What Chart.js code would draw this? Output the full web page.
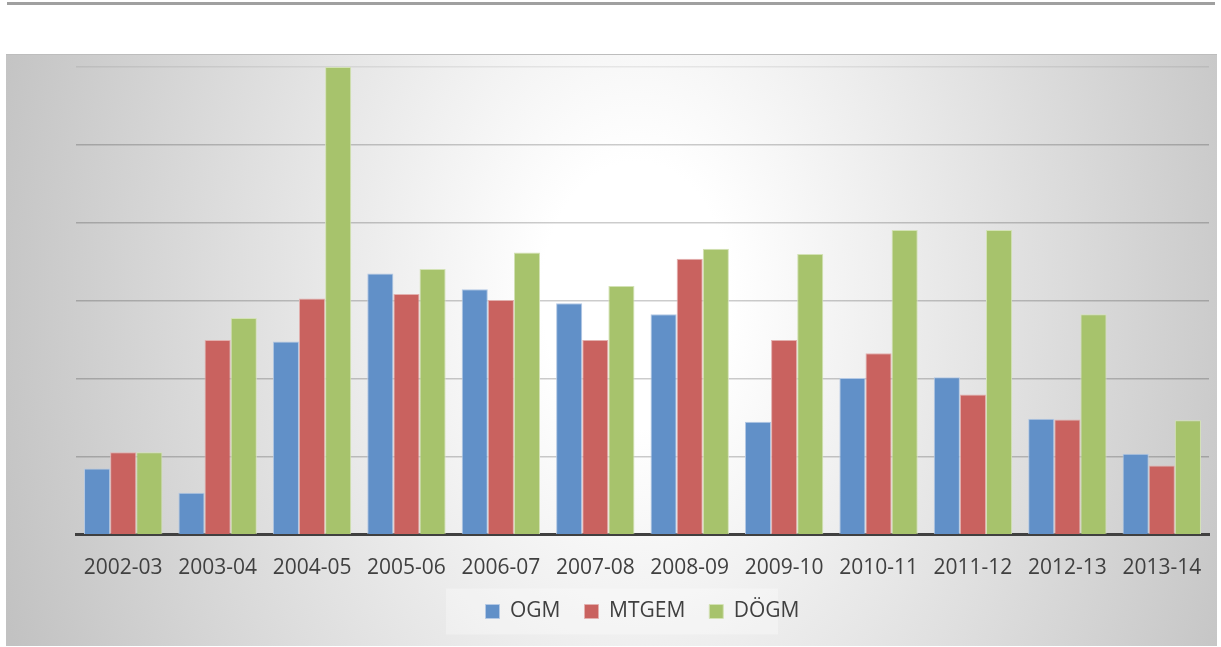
<!DOCTYPE html>
<html>
<head>
<meta charset="utf-8">
<script src="https://cdn.jsdelivr.net/npm/chart.js@4/dist/chart.umd.min.js"></script>
<style>
  html, body { margin: 0; padding: 0; background: #fff; }
  body { width: 1221px; height: 647px; position: relative; overflow: hidden; }
  #topRule { position: absolute; left: 7px; top: 2px; width: 1208px; height: 3px; background: #a0a0a0; }
  #frame {
    position: absolute; left: 6px; top: 54px; width: 1211px; height: 591px;
    border-top: 1px solid #bdbdbd;
    background: radial-gradient(ellipse 670px 950px at 630px 240px, #ffffff 0%, #ffffff 14%, #c2c2c2 100%);
  }
  #frame canvas { position: absolute; left: 0; top: 0; }
</style>
</head>
<body>
<div id="topRule"></div>
<div id="frame"><canvas id="mainChart" width="1211" height="590"></canvas></div>
<script>
const YEARS = ["2002-03", "2003-04", "2004-05", "2005-06", "2006-07", "2007-08",
               "2008-09", "2009-10", "2010-11", "2011-12", "2012-13", "2013-14"];
const OGM   = [0.85, 0.54, 2.48, 3.35, 3.15, 2.97, 2.83, 1.45, 2.01, 2.02, 1.49, 1.04];
const MTGEM = [1.06, 2.50, 3.03, 3.09, 3.01, 2.50, 3.54, 2.50, 2.33, 1.80, 1.48, 0.89];
const DOGM  = [1.06, 2.78, 6.00, 3.41, 3.62, 3.19, 3.67, 3.60, 3.91, 3.91, 2.83, 1.47];
const Y_MAX = 6;

const FONT = "'Open Sans', sans-serif";

// faint white panel behind the legend
const legendPanel = {
  id: "legendPanel",
  beforeDraw(chart) {
    const lg = chart.legend;
    if (!lg || !lg.legendHitBoxes.length) return;
    const hb = lg.legendHitBoxes[0];
    const mid = hb.top + hb.height / 2;
    const c = chart.ctx;
    c.save();
    c.fillStyle = "rgba(255,255,255,0.3)";
    c.fillRect(440, mid - 23, 332, 46);
    c.restore();
  }
};

const ctx = document.getElementById("mainChart").getContext("2d");
const CHART = new Chart(ctx, {
  type: "bar",
  data: {
    labels: YEARS,
    datasets: [
      { label: "OGM",   data: OGM,   backgroundColor: "#6190c8", borderColor: "#b3c8e4", borderWidth: 1 },
      { label: "MTGEM", data: MTGEM, backgroundColor: "#c9625f", borderColor: "#e2b0ae", borderWidth: 1 },
      { label: "DÖGM",  data: DOGM,  backgroundColor: "#a7c36c", borderColor: "#d3e2b5", borderWidth: 1 }
    ]
  },
  options: {
    responsive: false,
    animation: false,
    layout: { padding: { left: 70, right: 8, top: 12, bottom: 13 } },
    datasets: { bar: { categoryPercentage: 0.83, barPercentage: 1.0 } },
    plugins: {
      tooltip: { enabled: false },
      legend: {
        position: "bottom",
        labels: {
          color: "#404040",
          font: { family: FONT, size: 21 },
          boxWidth: 14,
          boxHeight: 14,
          padding: 24
        }
      }
    },
    scales: {
      x: {
        grid: { display: false, drawTicks: false },
        border: { display: true, color: "#404040", width: 3 },
        ticks: { color: "#404040", font: { family: FONT, size: 21 }, padding: 21, maxRotation: 0 },
        afterFit: s => { s.height -= 25; s.paddingLeft = 0; s.paddingRight = 0; }
      },
      y: {
        min: 0,
        max: Y_MAX,
        ticks: { display: false, stepSize: 1 },
        border: { display: false },
        grid: {
          drawTicks: false,
          lineWidth: 1.5,
          color: c => c.tick.value === 0 ? "rgba(0,0,0,0)" : (c.tick.value === Y_MAX ? "rgba(0,0,0,0.07)" : "rgba(0,0,0,0.2)")
        }
      }
    }
  },
  plugins: [legendPanel]
});
</script>
</body>
</html>
